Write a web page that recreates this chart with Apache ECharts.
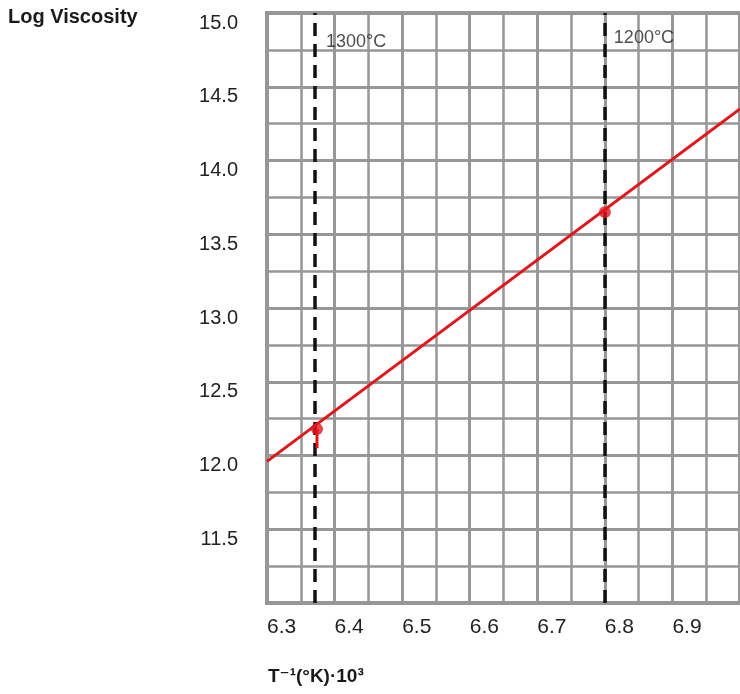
<!DOCTYPE html>
<html>
<head>
<meta charset="utf-8">
<script src="https://cdn.jsdelivr.net/npm/echarts@6/dist/echarts.min.js"></script>
<style>html,body{margin:0;padding:0;background:#fff}#c{width:740px;height:694px}</style>
</head>
<body>
<div id="c"></div>
<script>
// Data
const fitLine = [[6.30, 11.96], [7.00, 14.35]];
const measured = [[6.374, 12.18], [6.800, 13.65]];
const errorBar = [[6.374, 12.18], [6.374, 12.05]];
const isotherms = [
  { name: '1300°C', x: 6.374, labelY: 14.80 },
  { name: '1200°C', x: 6.800, labelY: 14.83 }
];
const xRange = [6.3, 7.0];
const yRange = [11.0, 15.0];

const chart = echarts.init(document.getElementById('c'));
const grayLine = '#979797';
chart.setOption({
  animation: false,
  backgroundColor: '#fff',
  title: [
    { text: 'Log Viscosity', left: 3, top: 2,
      textStyle: { fontFamily: 'Liberation Sans', fontWeight: 'bold', fontSize: 20, color: '#1a1a1a' } },
    { text: 'T⁻¹(°K)·10³', left: 263, top: 662,
      textStyle: { fontFamily: 'Liberation Sans, DejaVu Sans', fontWeight: 'bold', fontSize: 19, color: '#1a1a1a' } }
  ],
  grid: { left: 267, top: 13, bottom: 91, right: -1, show: true, borderColor: grayLine, borderWidth: 4 },
  xAxis: {
    type: 'value', min: xRange[0], max: xRange[1], interval: 0.1,
    axisLine: { show: true, lineStyle: { color: grayLine, width: 4 } },
    axisTick: { show: false },
    axisLabel: { show: true, showMaxLabel: false, align: 'left', margin: 14,
      fontFamily: 'Liberation Sans', fontSize: 21, color: '#222',
      formatter: v => v.toFixed(1) },
    splitLine: { show: true, lineStyle: { color: grayLine, width: 3 } },
    minorTick: { show: false, splitNumber: 2 },
    minorSplitLine: { show: true, lineStyle: { color: grayLine, width: 2.5 } }
  },
  yAxis: {
    type: 'value', min: yRange[0], max: yRange[1], interval: 0.5,
    axisLine: { show: true, lineStyle: { color: grayLine, width: 4 } },
    axisTick: { show: false },
    axisLabel: { show: true, showMinLabel: false, verticalAlign: 'top', margin: 29,
      fontFamily: 'Liberation Sans', fontSize: 20, color: '#222',
      formatter: v => v.toFixed(1) },
    splitLine: { show: true, lineStyle: { color: grayLine, width: 3 } },
    minorTick: { show: false, splitNumber: 2 },
    minorSplitLine: { show: true, lineStyle: { color: grayLine, width: 2.5 } }
  },
  series: [
    {
      type: 'line', data: fitLine, symbol: 'none', z: 5,
      lineStyle: { color: '#e3151b', width: 3 },
      markLine: {
        silent: true, symbol: 'none', z: 4,
        label: { show: false },
        lineStyle: { color: '#111', width: 3.5, type: [13, 8] },
        data: isotherms.map(d => ({ xAxis: d.x }))
      }
    },
    {
      type: 'line', data: errorBar, symbol: 'none', z: 5,
      lineStyle: { color: '#e3151b', width: 3 }
    },
    {
      type: 'scatter', data: measured, symbol: 'circle', symbolSize: 12, z: 6,
      itemStyle: { color: '#e3151b' }
    },
    {
      type: 'scatter', symbolSize: 0, z: 7,
      data: isotherms.map(d => ({ name: d.name, value: [d.x, d.labelY] })),
      label: { show: true, position: 'right', distance: 9, formatter: p => p.name,
        fontFamily: 'Liberation Sans', fontSize: 18, color: '#222' }
    }
  ]
});
</script>
</body>
</html>
